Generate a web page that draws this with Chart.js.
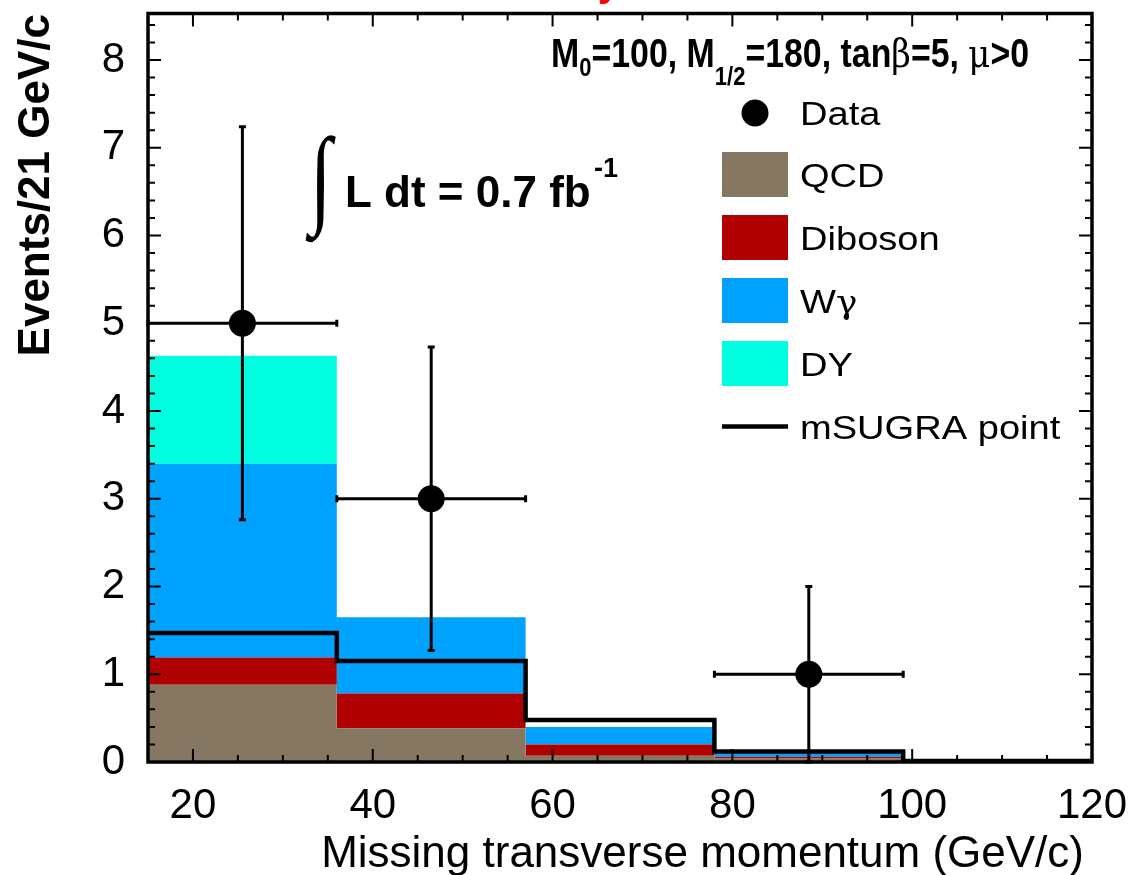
<!DOCTYPE html>
<html>
<head>
<meta charset="utf-8">
<script src="https://cdn.jsdelivr.net/npm/chart.js@4.4.0/dist/chart.umd.min.js"></script>
<style>
  body { margin: 0; background: #fff; }
  #wrap { width: 1138px; height: 875px; }
</style>
</head>
<body>
<div id="wrap"><canvas id="myChart"></canvas></div>
<script>
// bin edges (GeV/c), 21 GeV/c per bin
const binEdges = [15, 36, 57, 78, 99, 120];
// backgrounds, events per bin (stacked in this order)
const qcd = [0.88, 0.385, 0.07, 0.04, 0];
const diboson = [0.31, 0.395, 0.13, 0.02, 0];
const wgamma = [2.21, 0.87, 0.2, 0.07, 0];
const drellYan = [1.23, 0, 0, 0, 0];
// signal point
const msugra = [1.47, 1.15, 0.48, 0.12, 0.01];
// observed events
const dataX = [25.5, 46.5, 88.5];
const dataY = [5, 3, 1];
const dataErr = [2.24, 1.73, 1];
const dataXErr = [10.5, 10.5, 10.5];

const xTicks = [20, 40, 60, 80, 100, 120];
const yTicks = [0, 1, 2, 3, 4, 5, 6, 7, 8];

const bgLabels = ["QCD", "Diboson", "W\u03b3", "DY"];
const bgColors = ["#867762", "#b00000", "#00a2ff", "#00ffe1"];

const FONT = "'Liberation Sans', Arial, sans-serif";
const SERIF = "'DejaVu Serif', serif";

// histogram values -> points at the bin edges, last one repeated at the end
function toSteps(vals) {
  const pts = vals.map((v, i) => ({ x: binEdges[i], y: v }));
  pts.push({ x: binEdges[binEdges.length - 1], y: vals[vals.length - 1] });
  return pts;
}

let running = qcd.map(() => 0);
const stackSets = [qcd, diboson, wgamma, drellYan].map((vals, k) => {
  running = running.map((r, i) => r + vals[i]);
  return {
    label: bgLabels[k],
    type: "line",
    data: toSteps(running),
    stepped: true,
    backgroundColor: bgColors[k],
    borderColor: bgColors[k],
    borderWidth: 0,
    pointRadius: 0,
    fill: k === 0 ? "origin" : "-1",
    order: 3,
  };
});

function fitText(ctx, str, x, y, font, sx, align) {
  ctx.save();
  ctx.font = font;
  ctx.textAlign = align || "left";
  ctx.translate(x, y);
  ctx.scale(sx, 1);
  ctx.fillText(str, 0, 0);
  ctx.restore();
}

// draws a row of text pieces with their own fonts / shifts, returns end x
function richText(ctx, segs, x, y, sx) {
  let cx = x;
  segs.forEach(s => {
    ctx.font = s.f;
    const w = ctx.measureText(s.t).width;
    fitText(ctx, s.t, cx, y + (s.dy || 0), s.f, sx, "left");
    cx += w * sx;
  });
  return cx;
}

const decor = {
  id: "decor",
  afterDatasetsDraw(chart) {
    const ctx = chart.ctx;
    const xs = chart.scales.x, ys = chart.scales.y;
    ctx.save();
    ctx.strokeStyle = "#000";
    ctx.lineWidth = 3;
    dataX.forEach((xv, i) => {
      const px = xs.getPixelForValue(xv);
      const py = ys.getPixelForValue(dataY[i]);
      const x1 = xs.getPixelForValue(xv - dataXErr[i]);
      const x2 = xs.getPixelForValue(xv + dataXErr[i]);
      const y1 = ys.getPixelForValue(dataY[i] + dataErr[i]);
      const y2 = ys.getPixelForValue(Math.max(0, dataY[i] - dataErr[i]));
      ctx.beginPath();
      ctx.moveTo(x1, py); ctx.lineTo(x2, py);
      ctx.moveTo(x1, py - 3.5); ctx.lineTo(x1, py + 3.5);
      ctx.moveTo(x2, py - 3.5); ctx.lineTo(x2, py + 3.5);
      ctx.moveTo(px, y1); ctx.lineTo(px, y2);
      ctx.moveTo(px - 3.5, y1); ctx.lineTo(px + 3.5, y1);
      ctx.moveTo(px - 3.5, y2); ctx.lineTo(px + 3.5, y2);
      ctx.stroke();
    });
    ctx.restore();
  },
  afterDraw(chart) {
    const ctx = chart.ctx;
    const a = chart.chartArea;
    const xs = chart.scales.x, ys = chart.scales.y;
    ctx.save();
    ctx.fillStyle = "#000";
    ctx.strokeStyle = "#000";

    // ticks on all four sides, pointing inwards
    ctx.lineWidth = 2;
    ctx.beginPath();
    for (let v = 20; v < 120; v += 5) {
      const px = xs.getPixelForValue(v);
      const len = v % 20 === 0 ? 13 : 7;
      ctx.moveTo(px, a.bottom); ctx.lineTo(px, a.bottom - len);
      ctx.moveTo(px, a.top); ctx.lineTo(px, a.top + len);
    }
    for (let k = 1; k <= 42; k++) {
      const v = k * 0.2;
      const py = ys.getPixelForValue(v);
      const len = k % 5 === 0 ? 13 : 7;
      ctx.moveTo(a.left, py); ctx.lineTo(a.left + len, py);
      ctx.moveTo(a.right, py); ctx.lineTo(a.right - len, py);
    }
    ctx.stroke();

    // frame
    ctx.lineWidth = 3.5;
    ctx.strokeRect(a.left, a.top, a.right - a.left, a.bottom - a.top);

    // axis titles
    fitText(ctx, "Missing transverse momentum (GeV/c)", 1084, 867, "44px " + FONT, 1, "right");
    ctx.save();
    ctx.translate(49, 14);
    ctx.rotate(-Math.PI / 2);
    ctx.font = "bold 44px " + FONT;
    ctx.textAlign = "right";
    ctx.fillText("Events/21 GeV/c", 0, 0);
    ctx.restore();

    // header with sub-scripts, squeezed to the reference width
    const B = "bold 40px " + FONT, S = "bold 26px " + FONT;
    const segs = [
      { t: "M", f: B },
      { t: "0", f: S, dy: 9 },
      { t: "=100, M", f: B },
      { t: "1/2", f: S, dy: 18 },
      { t: "=180, tan", f: B },
      { t: "\u03b2", f: "40px " + SERIF },
      { t: "=5, ", f: B },
      { t: "\u03bc", f: "40px " + SERIF },
      { t: ">0", f: B },
    ];
    let total = 0;
    segs.forEach(s => { ctx.font = s.f; total += ctx.measureText(s.t).width; });
    richText(ctx, segs, 551, 67, 478 / total);

    // integrated luminosity: integral sign fitted into its box
    ctx.save();
    ctx.font = "bold 100px 'Liberation Serif', " + SERIF;
    const m = ctx.measureText("\u222b");
    const iw = m.actualBoundingBoxLeft + m.actualBoundingBoxRight;
    const ih = m.actualBoundingBoxAscent + m.actualBoundingBoxDescent;
    ctx.translate(305, 134);
    ctx.scale(31 / iw, 108 / ih);
    ctx.fillText("\u222b", m.actualBoundingBoxLeft, m.actualBoundingBoxAscent);
    ctx.restore();
    fitText(ctx, "L dt = 0.7 fb", 345, 207, "bold 44px " + FONT, 1, "left");
    fitText(ctx, "-1", 594, 177, "bold 27px " + FONT, 1, "left");

    // legend
    const lx1 = 722, lx2 = 788, tx = 800;
    const rows = [113, 174.5, 237.5, 300.5, 363.5, 426.5];
    ctx.beginPath();
    ctx.arc((lx1 + lx2) / 2, rows[0], 13.5, 0, Math.PI * 2);
    ctx.fill();
    bgColors.forEach((c, k) => {
      ctx.fillStyle = c;
      ctx.fillRect(lx1, rows[k + 1] - 22.5, lx2 - lx1, 45);
    });
    ctx.fillStyle = "#000";
    ctx.lineWidth = 4.5;
    ctx.beginPath();
    ctx.moveTo(lx1, rows[5]); ctx.lineTo(lx2, rows[5]);
    ctx.stroke();
    const L = "34px " + FONT;
    const legendText = ["Data"].concat(bgLabels, ["mSUGRA point"]);
    legendText.forEach((t, k) => {
      if (t === "W\u03b3") {
        richText(ctx, [{ t: "W", f: L }, { t: "\u03b3", f: "32px " + SERIF }], tx, rows[k] + 12, 1.12);
      } else {
        fitText(ctx, t, tx, rows[k] + 12, L, 1.12, "left");
      }
    });

    // red label cut by the top edge of the picture
    ctx.fillStyle = "#ff0000";
    fitText(ctx, "Preliminary", 620, -4, "bold 40px " + FONT, 1, "right");
    ctx.restore();
  },
};

new Chart(document.getElementById("myChart"), {
  type: "line",
  data: {
    datasets: [
      ...stackSets,
      {
        label: "mSUGRA point",
        type: "line",
        data: toSteps(msugra),
        stepped: true,
        borderColor: "#000",
        borderWidth: 4.5,
        pointRadius: 0,
        fill: false,
        order: 1,
      },
      {
        label: "Data",
        type: "scatter",
        data: dataX.map((x, i) => ({ x: x, y: dataY[i] })),
        backgroundColor: "#000",
        borderWidth: 0,
        pointRadius: 13.5,
        order: 0,
      },
    ],
  },
  options: {
    responsive: true,
    maintainAspectRatio: false,
    animation: false,
    layout: { padding: { top: 13, right: 46, left: 0, bottom: 0 } },
    plugins: { legend: { display: false }, tooltip: { enabled: false } },
    scales: {
      x: {
        type: "linear",
        min: 15,
        max: 120,
        grid: { display: false },
        border: { display: false },
        afterBuildTicks: s => { s.ticks = xTicks.map(v => ({ value: v })); },
        afterFit: s => { s.height = 113; s.paddingLeft = 0; s.paddingRight = 0; },
        ticks: { color: "#000", padding: 11, maxRotation: 0, font: { family: FONT, size: 42 } },
      },
      y: {
        min: 0,
        max: 8.53,
        grid: { display: false },
        border: { display: false },
        afterBuildTicks: s => { s.ticks = yTicks.map(v => ({ value: v })); },
        afterFit: s => { s.width = 148; s.paddingTop = 0; s.paddingBottom = 0; },
        ticks: { color: "#000", padding: 15, font: { family: FONT, size: 42 } },
      },
    },
  },
  plugins: [decor],
});
</script>
</body>
</html>
